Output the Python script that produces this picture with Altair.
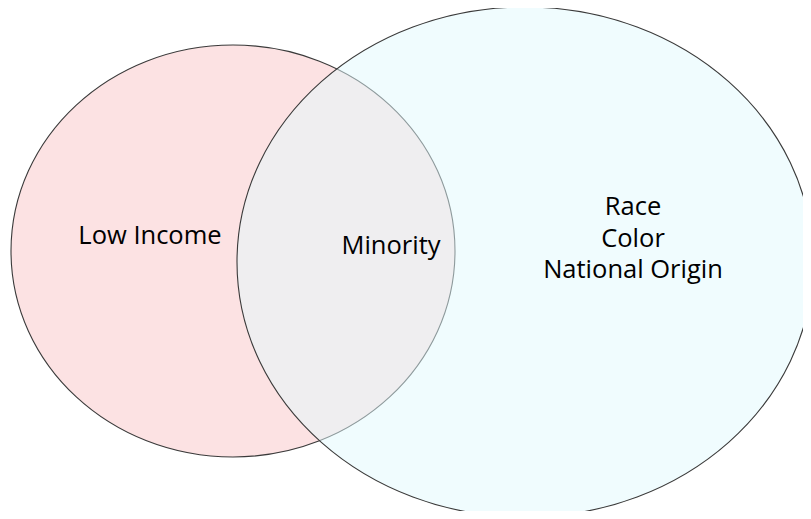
import altair as alt
import pandas as pd

# Venn sets (centre and radii in picture units)
set_names = ["Low Income", "Race / Color / National Origin"]
set_cx = [233, 525]
set_cy = [251, 262]
set_rx = [222, 288]
set_ry = [206, 255]
set_fill = ["#FCE2E3", "#E1F9FD"]
set_fill_opacity = [1.0, 0.5]

# Labels
label_text = ["Low Income", "Minority", "Race", "Color", "National Origin"]
label_x = [150, 391, 633, 633, 633]
label_y = [244, 254, 215, 247, 278]

sets_df = pd.DataFrame({
    "name": set_names,
    "x": set_cx,
    "y": set_cy,
    "rx": set_rx,
    "ry": set_ry,
    "fill": set_fill,
    "fo": set_fill_opacity,
    "order": list(range(len(set_names))),
})
labels_df = pd.DataFrame({"label": label_text, "x": label_x, "y": label_y})

xs = alt.Scale(domain=[8, 803], zero=False, nice=False)
ys = alt.Scale(domain=[8, 511], zero=False, nice=False, reverse=True)

ellipses = (
    alt.Chart(sets_df)
    .transform_calculate(
        shp="'M -1 0 A 1 ' + (datum.ry / datum.rx) + ' 0 1 1 1 0 A 1 ' + (datum.ry / datum.rx) + ' 0 1 1 -1 0 Z'",
        sz="pow(2 * datum.rx, 2)",
    )
    .mark_point(filled=True, opacity=1, stroke="#3a3a3a", strokeWidth=1.1)
    .encode(
        x=alt.X("x:Q", scale=xs, axis=None),
        y=alt.Y("y:Q", scale=ys, axis=None),
        shape=alt.Shape("shp:N", scale=None),
        size=alt.Size("sz:Q", scale=None),
        fill=alt.Fill("fill:N", scale=None),
        fillOpacity=alt.FillOpacity("fo:Q", scale=None),
        order=alt.Order("order:Q"),
    )
)

texts = (
    alt.Chart(labels_df)
    .mark_text(font="Open Sans", fontSize=25.5, color="#000000", align="center", baseline="alphabetic")
    .encode(
        x=alt.X("x:Q", scale=xs, axis=None),
        y=alt.Y("y:Q", scale=ys, axis=None),
        text="label:N",
    )
)

chart = (
    alt.layer(ellipses, texts)
    .properties(width=795, height=503, padding=0, autosize="none", background="white")
    .configure_view(stroke=None)
)

chart.save("out.html", embed_options={"renderer": "svg", "actions": False})
